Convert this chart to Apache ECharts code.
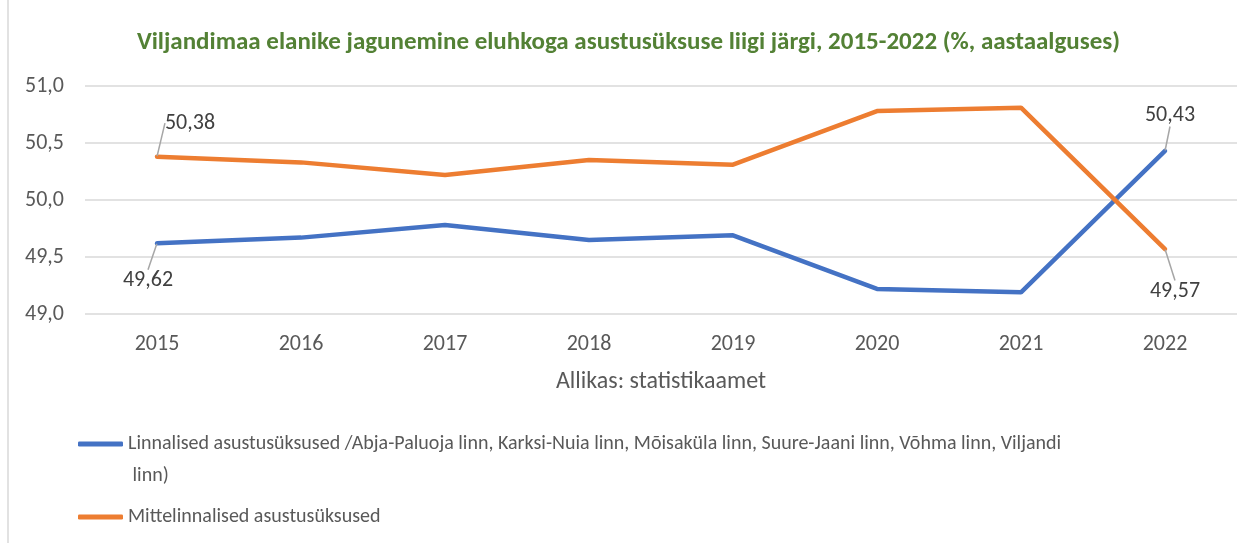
<!DOCTYPE html>
<html>
<head>
<meta charset="utf-8">
<script src="https://cdn.jsdelivr.net/npm/echarts@6/dist/echarts.min.js"></script>
<style>
  html, body { margin: 0; padding: 0; background: #fff; }
  #chart { width: 1257px; height: 543px; }
</style>
</head>
<body>
<div id="chart"></div>
<script>
// andmed
var years = ["2015", "2016", "2017", "2018", "2019", "2020", "2021", "2022"];
var linnalised = [49.62, 49.67, 49.78, 49.65, 49.69, 49.22, 49.19, 50.43];
var mittelinnalised = [50.38, 50.33, 50.22, 50.35, 50.31, 50.78, 50.81, 49.57];
var nameLinn = "Linnalised asustusüksused /Abja-Paluoja linn, Karksi-Nuia linn, Mõisaküla linn, Suure-Jaani linn, Võhma linn, Viljandi linn)";
var nameMitte = "Mittelinnalised asustusüksused";

var font = "Carlito, 'Open Sans', sans-serif";
var chart = echarts.init(document.getElementById("chart"));

var comma = function (v, d) {
  return Number(v).toFixed(d).replace(".", ",");
};

// silt ainult esimesel ja viimasel punktil
var endLabels = function (arr, firstPos, lastPos) {
  return arr.map(function (v, i) {
    if (i === 0 || i === arr.length - 1) {
      return {
        value: v,
        label: { show: true, position: i === 0 ? firstPos : lastPos },
      };
    }
    return v;
  });
};

// nihked siltidele (dx, dy)
var shift = {
  "0-0": [-9, 21],
  "0-7": [5, -19],
  "1-0": [33, -17],
  "1-7": [10, 26],
};

var labelStyle = {
  color: "#404040",
  fontFamily: font,
  fontSize: 22,
  distance: 5,
  formatter: function (p) {
    return comma(p.value, 2);
  },
};

var legendText = {
  color: "#595959",
  fontFamily: font,
  fontSize: 20,
  lineHeight: 32,
  width: 975,
  overflow: "break",
};

var option = {
  animation: false,
  title: {
    text: "Viljandimaa elanike jagunemine eluhkoga asustusüksuse liigi järgi, 2015-2022 (%, aastaalguses)",
    left: "center",
    top: 25,
    textStyle: {
      color: "#538135",
      fontFamily: font,
      fontWeight: "bold",
      fontSize: 25,
    },
  },
  grid: {
    left: 85,
    right: 20,
    top: 86,
    bottom: 229,
  },
  legend: [
    {
      // tühi rida ees, et ikoon jääks esimese rea kõrgusele
      data: [nameLinn],
      orient: "vertical",
      left: 78,
      top: 396,
      padding: 0,
      itemWidth: 45,
      itemHeight: 5,
      icon: "roundRect",
      textStyle: legendText,
      formatter: function (name) {
        return "\n" + name;
      },
    },
    {
      data: [nameMitte],
      orient: "vertical",
      left: 78,
      top: 501,
      padding: 0,
      itemWidth: 45,
      itemHeight: 5,
      icon: "roundRect",
      textStyle: legendText,
    },
  ],
  xAxis: {
    type: "category",
    data: years,
    name: "Allikas: statistikaamet",
    nameLocation: "middle",
    nameGap: 56,
    nameTextStyle: { color: "#595959", fontFamily: font, fontSize: 24 },
    axisLine: { show: false },
    axisTick: { show: false },
    axisLabel: { color: "#595959", fontFamily: font, fontSize: 22, margin: 19 },
  },
  yAxis: {
    type: "value",
    min: 49,
    max: 51,
    interval: 0.5,
    axisLine: { show: false },
    axisTick: { show: false },
    axisLabel: {
      color: "#595959",
      fontFamily: font,
      fontSize: 22,
      margin: 21,
      formatter: function (v) {
        return comma(v, 1);
      },
    },
    splitLine: { lineStyle: { color: "#d9d9d9", width: 1.5 } },
  },
  series: [
    {
      name: nameLinn,
      type: "line",
      data: endLabels(linnalised, "bottom", "top"),
      symbol: "circle",
      symbolSize: 1,
      lineStyle: { color: "#4472c4", width: 4.5, cap: "round" },
      itemStyle: { color: "#4472c4" },
      label: labelStyle,
    },
    {
      name: nameMitte,
      type: "line",
      data: endLabels(mittelinnalised, "top", "bottom"),
      symbol: "circle",
      symbolSize: 1,
      lineStyle: { color: "#ed7d31", width: 4.5, cap: "round" },
      itemStyle: { color: "#ed7d31" },
      label: labelStyle,
    },
  ],
  labelLayout: function (params) {
    var s = shift[params.seriesIndex + "-" + params.dataIndex];
    if (!s) return {};
    return { dx: s[0], dy: s[1] };
  },
  graphic: [
    {
      type: "line",
      shape: { x1: 8, y1: 0, x2: 8, y2: 543 },
      style: { stroke: "#d9d9d9", lineWidth: 1.5 },
    },
  ],
};
option.series.forEach(function (s) {
  s.labelLine = { show: true, lineStyle: { color: "#a6a6a6", width: 1.5 } };
});

chart.setOption(option);
window.addEventListener("resize", function () {
  chart.resize();
});
</script>
</body>
</html>
